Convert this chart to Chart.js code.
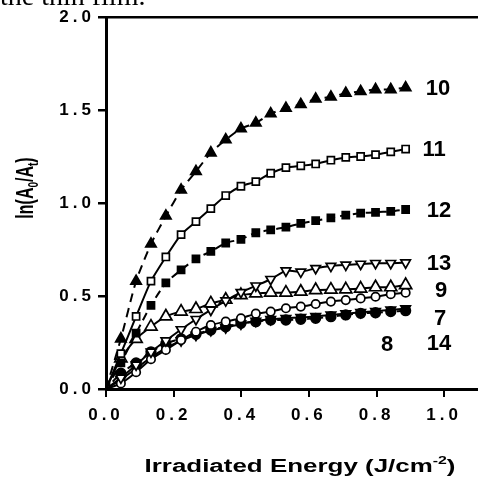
<!DOCTYPE html>
<html>
<head>
<meta charset="utf-8">
<script src="https://cdn.jsdelivr.net/npm/chart.js@4/dist/chart.umd.min.js"></script>
<style>
  html, body { margin: 0; padding: 0; background: #fff; overflow: hidden; }
  #wrap { position: relative; width: 478px; height: 477px; }
  #caption { position: absolute; left: 0px; top: -18px; font: 28px "Liberation Serif", serif; color: #000; line-height: 1; white-space: nowrap; }
</style>
</head>
<body>
<div id="wrap">
  <canvas id="myChart"></canvas>
  <div id="caption">the thin film.</div>
</div>
<script>
// irradiated energy (J/cm-2)
const energy = [0, 0.044, 0.089, 0.133, 0.177, 0.222, 0.266, 0.310, 0.354, 0.399, 0.443,
                0.487, 0.532, 0.576, 0.620, 0.665, 0.709, 0.753, 0.797, 0.842, 0.886];

const s10 = [0, 0.27, 0.58, 0.78, 0.93, 1.07, 1.17, 1.27, 1.34, 1.40, 1.43, 1.48, 1.51, 1.53, 1.56, 1.57, 1.59, 1.60, 1.61, 1.61, 1.62];
const s11 = [0, 0.19, 0.39, 0.58, 0.71, 0.83, 0.90, 0.97, 1.04, 1.09, 1.115, 1.16, 1.19, 1.20, 1.21, 1.23, 1.245, 1.25, 1.26, 1.275, 1.29];
const s12 = [0, 0.14, 0.30, 0.45, 0.57, 0.64, 0.70, 0.74, 0.785, 0.805, 0.84, 0.855, 0.87, 0.89, 0.905, 0.92, 0.935, 0.945, 0.95, 0.955, 0.965];
const s13 = [0, 0.06, 0.13, 0.20, 0.26, 0.32, 0.375, 0.425, 0.475, 0.52, 0.555, 0.59, 0.636, 0.63, 0.649, 0.661, 0.667, 0.672, 0.676, 0.676, 0.679];
const s9  = [0, 0.165, 0.27, 0.335, 0.39, 0.416, 0.43, 0.46, 0.48, 0.505, 0.514, 0.518, 0.518, 0.523, 0.532, 0.534, 0.536, 0.54, 0.547, 0.547, 0.559];
const s7  = [0, 0.03, 0.09, 0.16, 0.21, 0.263, 0.308, 0.344, 0.362, 0.38, 0.405, 0.416, 0.434, 0.443, 0.457, 0.47, 0.478, 0.487, 0.496, 0.51, 0.518];
const s8  = [0, 0.085, 0.14, 0.2, 0.245, 0.27, 0.295, 0.317, 0.335, 0.353, 0.362, 0.371, 0.371, 0.375, 0.38, 0.389, 0.398, 0.407, 0.41, 0.416, 0.421];
const s14 = [0, 0.05, 0.11, 0.17, 0.22, 0.26, 0.29, 0.315, 0.33, 0.35, 0.365, 0.375, 0.38, 0.385, 0.39, 0.398, 0.405, 0.412, 0.418, 0.425, 0.432];

const xTicks = [0, 0.2, 0.4, 0.6, 0.8, 1.0];
const yTicks = [0, 0.5, 1.0, 1.5, 2.0];

// series number labels and where they sit (data coords)
const labelText = ['10', '11', '12', '13', '9', '7', '8', '14'];
const labelX = [0.982, 0.97, 0.985, 0.985, 0.991, 0.988, 0.831, 0.985];
const labelY = [1.618, 1.29, 0.962, 0.677, 0.53, 0.382, 0.242, 0.247];

const FONT = '"Liberation Sans", Arial, sans-serif';

function pts(ys) {
  return ys.map((y, i) => ({ x: energy[i], y: y }));
}

function series(label, ys, style, filled, dash, radius, rot) {
  return {
    label: label,
    data: pts(ys),
    borderColor: '#000',
    borderWidth: 2,
    borderDash: dash || [],
    backgroundColor: filled ? '#000' : '#fff',
    pointBackgroundColor: filled ? '#000' : '#fff',
    pointBorderColor: '#000',
    pointBorderWidth: 1.7,
    pointStyle: style,
    pointRadius: radius,
    pointRotation: rot || 0,
    tension: 0.2,
    fill: false
  };
}

const extras = {
  id: 'extras',
  beforeDraw(chart) {
    chart.ctx.letterSpacing = '4px';
  },
  afterDraw(chart) {
    const ctx = chart.ctx;
    const xs = chart.scales.x, ys = chart.scales.y;
    ctx.save();
    ctx.letterSpacing = '0px';
    ctx.fillStyle = '#000';

    // series numbers
    ctx.font = 'bold 22px ' + FONT;
    ctx.textAlign = 'center';
    ctx.textBaseline = 'middle';
    labelText.forEach((t, i) => {
      ctx.fillText(t, xs.getPixelForValue(labelX[i]), ys.getPixelForValue(labelY[i]) + 1);
    });

    // x title with superscript, stretched wide like the scan
    ctx.textAlign = 'left';
    ctx.textBaseline = 'alphabetic';
    const big = 'bold 18px ' + FONT, small = 'bold 11px ' + FONT;
    const a = 'Irradiated Energy (J/cm', sup = '-2', b = ')';
    ctx.font = big; const wa = ctx.measureText(a).width, wb = ctx.measureText(b).width;
    ctx.font = small; const ws = ctx.measureText(sup).width;
    const k = 311 / (wa + ws + wb);
    ctx.save();
    ctx.translate(300 - 311 / 2, 472);
    ctx.scale(k, 1);
    ctx.font = big; ctx.fillText(a, 0, 0);
    ctx.font = small; ctx.fillText(sup, wa, -8);
    ctx.font = big; ctx.fillText(b, wa + ws, 0);
    ctx.restore();

    // y title with subscripts
    ctx.save();
    ctx.translate(33, 188);
    ctx.rotate(-Math.PI / 2);
    ctx.scale(1, 1.5);
    const parts = [['ln(A', false], ['0', true], ['/A', false], ['t', true], [')', false]];
    const mBig = 'bold 16px ' + FONT, mSmall = 'bold 10px ' + FONT;
    let tot = 0;
    parts.forEach(p => { ctx.font = p[1] ? mSmall : mBig; tot += ctx.measureText(p[0]).width; });
    let cx = -tot / 2;
    parts.forEach(p => {
      ctx.font = p[1] ? mSmall : mBig;
      ctx.fillText(p[0], cx, p[1] ? 3 : 0);
      cx += ctx.measureText(p[0]).width;
    });
    ctx.restore();
    ctx.restore();
  }
};

const ctx = document.getElementById('myChart');

new Chart(ctx, {
  type: 'line',
  data: {
    datasets: [
      series('10', s10, 'triangle', true, [9, 6], 6),
      series('11', s11, 'rect', false, [], 5),
      series('12', s12, 'rect', true, [8, 5], 5),
      series('13', s13, 'triangle', false, [], 5.5, 180),
      series('9', s9, 'triangle', false, [], 7),
      series('7', s7, 'circle', false, [], 4.2),
      series('8', s8, 'circle', true, [6, 4], 4.8),
      series('14', s14, 'triangle', true, [], 5.5, 180)
    ]
  },
  options: {
    responsive: true,
    maintainAspectRatio: false,
    animation: false,
    layout: { autoPadding: false, padding: { top: 17, right: 0, left: 0, bottom: 0 } },
    plugins: { legend: { display: false }, tooltip: { enabled: false } },
    scales: {
      x: {
        type: 'linear',
        min: 0,
        max: 1.1,
        afterBuildTicks: (s) => { s.ticks = xTicks.map(v => ({ value: v })); },
        afterFit: (s) => { s.height = 88; },
        ticks: {
          color: '#000',
          font: { family: FONT, size: 17, weight: 'bold' },
          padding: 8,
          maxRotation: 0,
          callback: (v) => v.toFixed(1)
        },
        grid: { drawOnChartArea: false, drawTicks: true, tickLength: 8, tickColor: '#000', lineWidth: 2 },
        border: { display: true, color: '#000', width: 3 }
      },
      y: {
        min: 0,
        max: 2,
        afterBuildTicks: (s) => { s.ticks = yTicks.map(v => ({ value: v })); },
        afterFit: (s) => { s.width = 106; },
        ticks: {
          color: '#000',
          font: { family: FONT, size: 17, weight: 'bold' },
          padding: 3,
          callback: (v) => v.toFixed(1)
        },
        grid: {
          drawTicks: true,
          tickLength: 8,
          tickColor: '#000',
          lineWidth: 2.5,
          color: (c) => (c.tick && c.tick.value === 2 ? '#000' : 'rgba(0,0,0,0)')
        },
        border: { display: true, color: '#000', width: 3 }
      }
    }
  },
  plugins: [extras]
});
</script>
</body>
</html>
